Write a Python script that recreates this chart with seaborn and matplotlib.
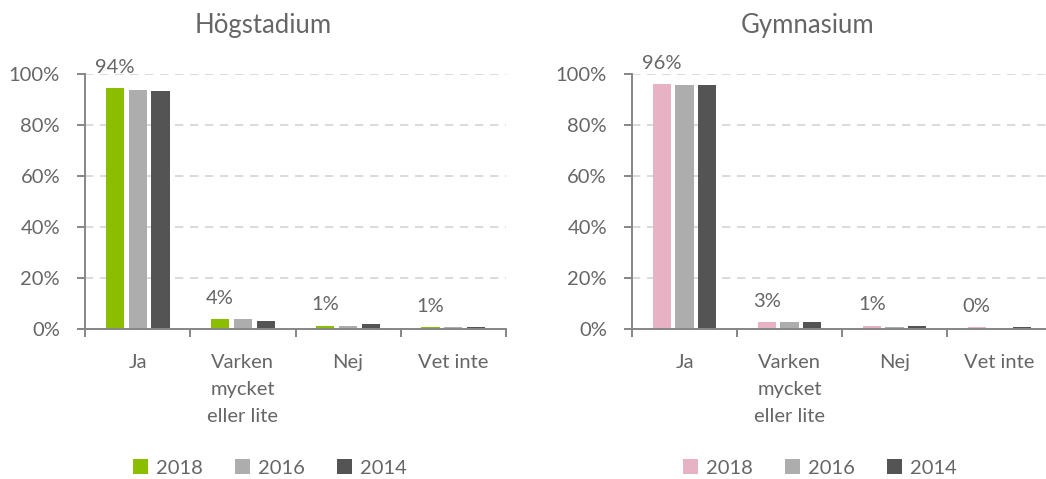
import numpy as np
import pandas as pd
import matplotlib
matplotlib.use("Agg")
import matplotlib.pyplot as plt
import seaborn as sns

# ── data ──────────────────────────────────────────────
categories = ["Ja", "Varken\nmycket\neller lite", "Nej", "Vet inte"]
years = ["2018", "2016", "2014"]

hog_2018 = [94.4, 3.9, 1.3, 0.7]
hog_2016 = [93.6, 3.9, 1.2, 0.6]
hog_2014 = [93.4, 3.3, 2.1, 0.6]
hog_labels = ["94%", "4%", "1%", "1%"]

gym_2018 = [95.9, 2.7, 1.2, 0.6]
gym_2016 = [95.8, 2.7, 0.7, 0.5]
gym_2014 = [95.8, 2.7, 1.2, 0.7]
gym_labels = ["96%", "3%", "1%", "0%"]

titles = ["Högstadium", "Gymnasium"]
yticks = [0, 20, 40, 60, 80, 100]

# ── style ─────────────────────────────────────────────
sns.set_theme(style="white")
plt.rcParams["font.family"] = ["Lato", "DejaVu Sans"]
text_col = "#666666"
spine_col = "#868686"
fs = 14.5


def long_df(v18, v16, v14):
    rows = []
    for yr, vals in zip(years, [v18, v16, v14]):
        for c, v in zip(categories, vals):
            rows.append({"kategori": c, "år": yr, "andel": v})
    return pd.DataFrame(rows)


def draw(ax, df, first_col, bar_labels, title, title_x):
    pal = [first_col, "#adadad", "#545454"]
    sns.barplot(data=df, x="kategori", y="andel", hue="år", order=categories,
                hue_order=years, palette=pal, width=0.65, gap=0.2,
                linewidth=0, saturation=1, ax=ax)
    ax.set_ylim(0, 100)
    ax.set_xlim(-0.5, 3.5)
    ax.set_yticks(yticks)
    ax.set_yticklabels([f"{t}%" for t in yticks])
    ax.set_xlabel("")
    ax.set_ylabel("")
    ax.set_axisbelow(True)
    ax.yaxis.grid(True, color="#d4d4d4", linestyle=(0, (5, 4)), linewidth=1.2)
    ax.xaxis.grid(False)
    for s in ["top", "right"]:
        ax.spines[s].set_visible(False)
    for s in ["left", "bottom"]:
        ax.spines[s].set_color(spine_col)
        ax.spines[s].set_linewidth(1.4)
    # x ticks between categories
    ax.set_xticks([-0.5, 0.5, 1.5, 2.5, 3.5], minor=False)
    ax.set_xticklabels([])
    ax.set_xticks([0, 1, 2, 3], minor=True)
    ax.set_xticklabels(categories, minor=True, linespacing=1.7)
    ax.tick_params(axis="x", which="major", direction="out", length=6,
                   width=1.4, color=spine_col, bottom=True)
    ax.tick_params(axis="x", which="minor", length=0, pad=18,
                   labelsize=fs, labelcolor=text_col, bottom=True)
    ax.tick_params(axis="y", direction="out", length=6, width=1.4,
                   color=spine_col, left=True, pad=12,
                   labelsize=fs, labelcolor=text_col)
    # data labels on the 2018 bars
    ax.bar_label(ax.containers[0], labels=bar_labels,
                 padding=9, fontsize=fs, color=text_col)
    handles, labels = ax.get_legend_handles_labels()
    ax.get_legend().remove()
    fig.text(title_x, 1 - 25 / 479, title, ha="center", va="center",
             fontsize=18.5, color=text_col)
    return handles, labels


fig = plt.figure(figsize=(10.46, 4.79), dpi=100)
ax1 = fig.add_axes([85 / 1046, 150 / 479, 421 / 1046, 255 / 479])
ax2 = fig.add_axes([632 / 1046, 150 / 479, 420 / 1046, 255 / 479])

h1, l1 = draw(ax1, long_df(hog_2018, hog_2016, hog_2014), "#8cbe00",
              hog_labels, titles[0], 263 / 1046)
h2, l2 = draw(ax2, long_df(gym_2018, gym_2016, gym_2014), "#e6b2c4",
              gym_labels, titles[1], 808 / 1046)

for h, l, cx in [(h1, l1, 270 / 1046), (h2, l2, 820 / 1046)]:
    fig.legend(h, l, loc="center", bbox_to_anchor=(cx, 11 / 479), ncol=3,
               frameon=False, handlelength=0.75, handleheight=0.75,
               handletextpad=0.4, columnspacing=1.6, fontsize=fs,
               labelcolor=text_col)

fig.savefig("out.png", dpi=100)
